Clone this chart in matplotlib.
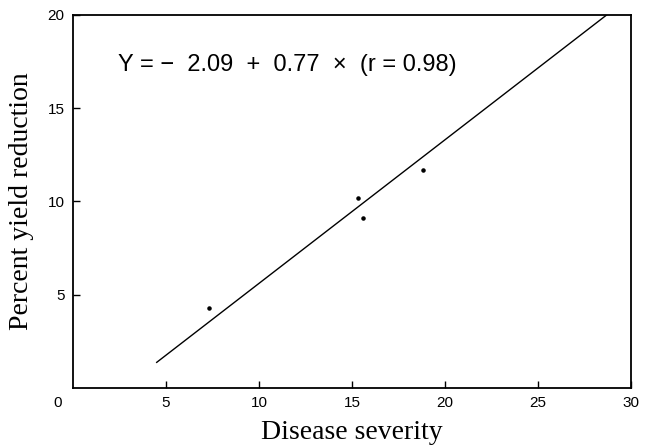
import matplotlib
matplotlib.use("Agg")
import matplotlib.pyplot as plt
import numpy as np

# observed points (disease severity, % yield reduction)
severity = [7.3, 15.3, 15.6, 18.8]
yield_red = [4.3, 10.2, 9.1, 11.7]

# regression Y = a + bX
a, b = -2.09, 0.77
fit_x = [4.5, 28.7]

x_ticks = [5, 10, 15, 20, 25, 30]
y_ticks = [5, 10, 15, 20]

fig = plt.figure(figsize=(6.45, 4.47), dpi=100)
ax = fig.add_axes([73 / 645, 1 - 388 / 447, (631 - 73) / 645, (388 - 15) / 447])

fx = np.array(fit_x)
ax.plot(fx, a + b * fx, color="black", lw=1.0)
ax.scatter(severity, yield_red, s=5, color="black", zorder=3)

ax.set_xlim(0, 30)
ax.set_ylim(0, 20)
ax.set_xticks(x_ticks)
ax.set_yticks(y_ticks)
ax.tick_params(direction="in", length=5, width=1, labelsize=11, pad=6)
for t in ax.get_xticklabels() + ax.get_yticklabels():
    t.set_family("Liberation Sans")
for s in ax.spines.values():
    s.set_linewidth(1.3)

ax.text(-0.6, -0.45, "0", ha="right", va="top", fontsize=11, family="Liberation Sans")

ax.text(2.4, 17.3, "Y = \u2212  2.09  +  0.77  \u00d7  (r = 0.98)", fontsize=17,
        family="Liberation Sans", va="center")

ax.set_xlabel("Disease severity", family="Liberation Serif", fontsize=20, labelpad=7)
ax.set_ylabel("Percent yield reduction", family="Liberation Serif", fontsize=20, labelpad=10)

fig.savefig("out.png", dpi=100)
